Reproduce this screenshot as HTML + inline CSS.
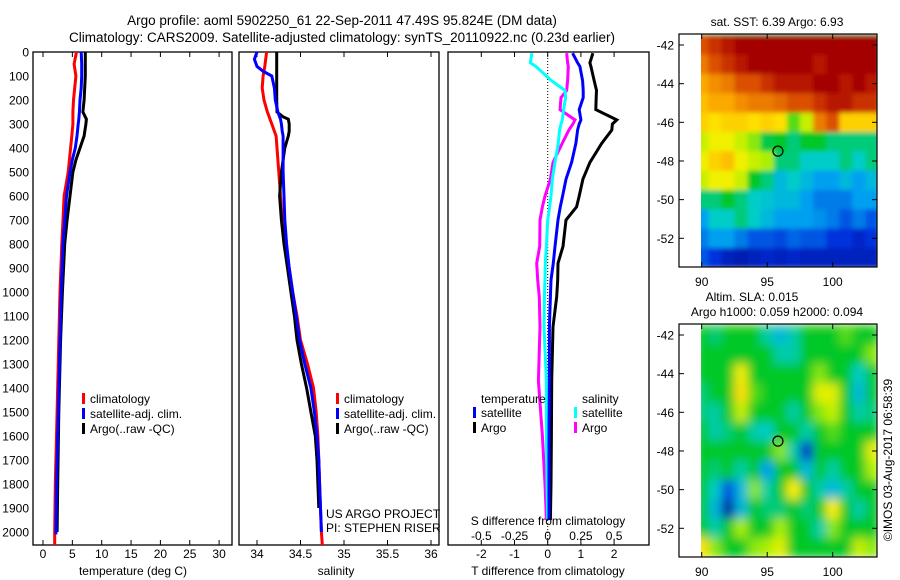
<!DOCTYPE html>
<html><head><meta charset="utf-8">
<style>
html,body{margin:0;padding:0;background:#fff;}
svg{display:block;font-family:"Liberation Sans",sans-serif;}
text{fill:#000;}
</style></head>
<body>
<svg id="fig" width="900" height="580" viewBox="0 0 900 580" xmlns="http://www.w3.org/2000/svg">
<defs>
<filter id="blur1" x="0" y="0" width="1" height="1"><feGaussianBlur stdDeviation="2.5"/></filter>
<filter id="blur2" x="0" y="0" width="1" height="1"><feGaussianBlur stdDeviation="5"/></filter>
<clipPath id="clipTop"><rect x="701" y="34" width="176" height="233"/></clipPath>
<clipPath id="clipBot"><rect x="701" y="324" width="176" height="233"/></clipPath>
</defs>
<text x="342" y="25" font-size="13.5" text-anchor="middle">Argo profile: aoml 5902250_61 22-Sep-2011 47.49S 95.824E (DM data)</text>
<text x="342" y="42" font-size="13.5" text-anchor="middle">Climatology: CARS2009. Satellite-adjusted climatology: synTS_20110922.nc (0.23d earlier)</text>
<g id="panels"></g>
</svg>
<script>
// ---- data ----
const tDepths = [0,50,100,150,200,250,280,300,350,400,450,500,600,700,800,1000,1200,1500,1800,2000];
const tArgo   = [7.2,7.2,7.2,7.1,7.0,6.8,7.4,7.3,7.0,6.3,5.6,5.1,4.6,4.1,3.7,3.3,3.0,2.7,2.5,2.4];
const tSat    = [6.5,6.6,6.6,6.5,6.3,6.2,6.1,6.0,5.8,5.5,5.0,4.6,4.0,3.7,3.4,3.1,2.9,2.6,2.3,2.2];
const tClim   = [5.7,5.3,5.6,5.4,5.2,5.1,5.1,5.1,4.9,4.7,4.5,4.3,3.6,3.4,3.2,2.9,2.7,2.4,2.1,2.0];
const sDepths = [0,30,60,80,100,150,200,250,270,280,300,330,350,400,500,600,700,800,900,1000,1100,1200,1300,1400,1500,1600,1700,1800,1900,2000];
const sSat    = [34.0,33.97,34.0,34.07,34.17,34.2,34.21,34.24,34.26,34.27,34.28,34.29,34.3,34.3,34.3,34.31,34.32,34.34,34.37,34.41,34.45,34.49,34.55,34.62,34.66,34.69,34.71,34.72,34.73,34.74];
const sClim   = [34.11,34.10,34.09,34.08,34.07,34.06,34.08,34.12,34.14,34.15,34.17,34.2,34.22,34.23,34.25,34.27,34.29,34.33,34.37,34.41,34.46,34.5,34.58,34.65,34.68,34.70,34.71,34.72,34.73,34.74];
const sArgoDepths = [0,100,200,250,270,280,300,330,350,400,500,600,700,800,900,1000,1100,1200,1300,1400,1500,1600,1700,1800,1900];
const sArgo   = [34.226,34.226,34.226,34.23,34.30,34.36,34.37,34.37,34.36,34.32,34.28,34.26,34.28,34.31,34.35,34.39,34.43,34.46,34.51,34.57,34.62,34.67,34.69,34.70,34.71];
const dDepths = [5,45,60,120,160,190,240,283,300,325,380,460,530,600,645,700,810,880,950,1020,1145,1370,1600,1800,1950];
const dTArgo  = [1.36,1.27,1.3,1.4,1.47,1.46,1.45,2.08,1.95,1.93,1.63,1.27,1.06,0.95,0.87,0.55,0.46,0.31,0.3,0.27,0.16,0.12,0.11,0.1,0.08];
const dTSat   = [0.75,0.9,0.97,1.05,1.07,1.07,0.95,1.0,0.95,0.9,0.85,0.72,0.55,0.45,0.38,0.31,0.22,0.17,0.1,0.08,0.05,0.05,0.04,0.04,0.04];
const dSSat   = [-0.12,-0.13,-0.09,0.03,0.13,0.135,0.12,0.11,0.1,0.09,0.08,0.055,0.035,0.025,0.015,0.0,-0.01,-0.018,-0.02,-0.025,-0.028,-0.01,-0.01,-0.005,0.0];
const dSArgo  = [0.143,0.15,0.155,0.15,0.143,0.1,0.093,0.206,0.19,0.16,0.11,0.04,0.02,-0.02,-0.04,-0.058,-0.06,-0.083,-0.075,-0.063,-0.058,-0.07,-0.04,-0.02,-0.01];
const tTicks = [0,5,10,15,20,25,30];
const sTicks = [34,34.5,35,35.5,36];
const sTickLabels = ["34","34.5","35","35.5","36"];
const dTTicks = [-2,-1,0,1,2];
const dSTicks = [-0.5,-0.25,0,0.25,0.5];
const depthTicks = [0,100,200,300,400,500,600,700,800,900,1000,1100,1200,1300,1400,1500,1600,1700,1800,1900,2000];
const sstGrid = [
[0.85,0.9,0.95,1,1,1,1,1,1,1,1,1,1,1],
[0.8,0.85,0.9,0.95,1,1,1,1,1,0.95,1,1,1,1],
[0.75,0.78,0.8,0.85,0.85,0.9,0.95,0.95,0.95,1,1,0.95,1,0.95],
[0.72,0.75,0.75,0.78,0.8,0.8,0.82,0.85,0.85,0.9,0.95,0.95,0.9,0.9],
[0.7,0.68,0.7,0.7,0.68,0.7,0.68,0.55,0.62,0.8,0.85,0.7,0.7,0.7],
[0.62,0.65,0.65,0.62,0.58,0.48,0.5,0.45,0.5,0.5,0.45,0.45,0.45,0.45],
[0.65,0.7,0.72,0.65,0.62,0.6,0.45,0.45,0.4,0.4,0.4,0.45,0.4,0.45],
[0.62,0.65,0.65,0.62,0.5,0.45,0.35,0.4,0.35,0.3,0.3,0.35,0.3,0.35],
[0.45,0.45,0.5,0.45,0.4,0.38,0.35,0.35,0.3,0.25,0.25,0.25,0.3,0.3],
[0.3,0.4,0.4,0.45,0.4,0.35,0.3,0.3,0.3,0.28,0.25,0.2,0.25,0.2],
[0.25,0.3,0.3,0.25,0.2,0.2,0.18,0.22,0.2,0.2,0.15,0.15,0.12,0.15],
[0.2,0.15,0.1,0.08,0.1,0.12,0.1,0.12,0.1,0.1,0.1,0.1,0.1,0.1]];
const slaGrid = [
[.5,.45,.5,.5,.5,.42,.35,.42,.5,.5,.5,.55,.5,.5],
[.5,.5,.5,.5,.5,.5,.42,.42,.5,.5,.5,.5,.5,.58],
[.5,.5,.5,.65,.5,.5,.5,.5,.5,.58,.5,.5,.4,.5],
[.45,.5,.5,.68,.55,.5,.5,.5,.5,.64,.64,.5,.35,.5],
[.45,.42,.5,.62,.5,.5,.5,.42,.5,.58,.62,.5,.42,.45],
[.5,.42,.45,.5,.42,.4,.5,.5,.42,.5,.55,.5,.5,.5],
[.5,.5,.5,.5,.5,.5,.58,.42,.12,.5,.5,.5,.5,.64],
[.5,.45,.5,.42,.5,.3,.5,.5,.35,.5,.42,.5,.5,.6],
[.5,.4,.18,.35,.58,.42,.5,.66,.5,.42,.35,.42,.5,.5],
[.5,.35,.05,.35,.5,.45,.45,.5,.45,.5,.66,.5,.42,.5],
[.5,.42,.5,.6,.5,.5,.6,.5,.5,.42,.58,.5,.5,.5],
[.68,.58,.5,.5,.58,.6,.64,.5,.5,.5,.5,.5,.62,.58]];
const latTicks = [-42,-44,-46,-48,-50,-52];
const lonTicks = [90,95,100];
const floatLon = 95.82, floatLat = -47.49;

// ---- helpers ----
const NS="http://www.w3.org/2000/svg";
const root=document.getElementById('panels');
function mk(tag,attrs,parent,txt){const e=document.createElementNS(NS,tag);for(const k in attrs)e.setAttribute(k,attrs[k]);if(txt!==undefined)e.textContent=txt;(parent||root).appendChild(e);return e;}
const yD = d => 52 + d*0.24;
const xT = v => 43 + v*5.87;
const xS = v => 257 + (v-34)*87;
const xDT = v => 547.7 + v*33.2;
const xDS = v => 547.7 + v*132.7;
function path(xs,ds,xf,color,name){
  let p='';xs.forEach((v,i)=>{p+=(i?'L':'M')+xf(v).toFixed(1)+','+yD(ds[i]).toFixed(1);});
  const e=mk('path',{d:p,fill:'none',stroke:color,'stroke-width':3,'stroke-linejoin':'miter'});
  
  
}
function frame(x0,x1,name){
  const e=mk('rect',{x:x0,y:52,width:x1-x0,height:493,fill:'none',stroke:'#000','stroke-width':1.3});
  
  
}
function xticks(vals,labels,xf,ly,name){
  vals.forEach((v,i)=>{const x=xf(v);
    mk('line',{x1:x,x2:x,y1:52,y2:57,stroke:'#000'});
    mk('line',{x1:x,x2:x,y1:545,y2:540,stroke:'#000'});
    if(labels){const t=mk('text',{x:x,y:ly,'font-size':12,'text-anchor':'middle'},root,labels[i]);
      
      }
  });
}
function legend(x,y,items,name){
  items.forEach((it,i)=>{
    const r=mk('rect',{x:x,y:y+i*15-10,width:3,height:11,fill:it[0]});
    
    
    const t=mk('text',{x:x+8,y:y+i*15,'font-size':12},root,it[1]);
    
    
  });
}

// ---- panel 1: temperature ----
frame(33,232,'temperature-plot-frame');
depthTicks.forEach(d=>{const t=mk('text',{x:29,y:yD(d)+4.5,'font-size':12,'text-anchor':'end'},root,String(d));
  
  });
xticks(tTicks,tTicks.map(String),xT,558,'temperature-tick-label');
path(tClim.concat([2.0]),tDepths.concat([2054]),xT,'#f00','temperature-climatology-line');
path(tArgo,tDepths,xT,'#000','temperature-argo-line');
path(tSat,tDepths.map((d,i)=>i==tDepths.length-1?2010:d),xT,'#00f','temperature-satellite-line');
let t1=mk('text',{x:133,y:575,'font-size':12,'text-anchor':'middle'},root,'temperature (deg C)');

legend(82,403,[['#f00','climatology'],['#00f','satellite-adj. clim.'],['#000','Argo(..raw -QC)']],'temperature-legend');

// ---- panel 2: salinity ----
frame(239,439,'salinity-plot-frame');
xticks(sTicks,sTickLabels,xS,558,'salinity-tick-label');
path(sClim.concat([34.75]),sDepths.concat([2054]),xS,'#f00','salinity-climatology-line');
path(sArgo,sArgoDepths,xS,'#000','salinity-argo-line');
path(sSat,sDepths,xS,'#00f','salinity-satellite-line');
let t2=mk('text',{x:336,y:575,'font-size':12,'text-anchor':'middle'},root,'salinity');

legend(336,403,[['#f00','climatology'],['#00f','satellite-adj. clim.'],['#000','Argo(..raw -QC)']],'salinity-legend');
let c1=mk('text',{x:326,y:518,'font-size':12},root,'US ARGO PROJECT');

let c2=mk('text',{x:326,y:532,'font-size':12},root,'PI: STEPHEN RISER');


// ---- panel 3: differences ----
frame(448,649,'difference-plot-frame');
mk('line',{x1:547.7,x2:547.7,y1:52,y2:545,stroke:'#000','stroke-dasharray':'1,2'});
xticks(dTTicks,dTTicks.map(String),xDT,558,'t-difference-tick-label');
path(dSArgo,dDepths,xDS,'#f0f','salinity-argo-difference-line');
path(dSSat,dDepths,xDS,'#0ff','salinity-satellite-difference-line');
path(dTArgo,dDepths,xDT,'#000','temperature-argo-difference-line');
path(dTSat,dDepths,xDT,'#00f','temperature-satellite-difference-line');
dSTicks.forEach(v=>{const t=mk('text',{x:xDS(v),y:540,'font-size':12,'text-anchor':'middle'},root,String(v));
  });
let t3=mk('text',{x:548,y:525,'font-size':12,'text-anchor':'middle'},root,'S difference from climatology');

let t4=mk('text',{x:548,y:575,'font-size':12,'text-anchor':'middle'},root,'T difference from climatology');

let lt=mk('text',{x:481,y:403,'font-size':12},root,'temperature');

let ls=mk('text',{x:582,y:403,'font-size':12},root,'salinity');

legend(473,417,[['#00f','satellite'],['#000','Argo']],'difference-temperature-legend');
legend(574,417,[['#0ff','satellite'],['#f0f','Argo']],'difference-salinity-legend');

// ---- maps ----
const stops=[[0,[0,0,130]],[0.15,[0,50,220]],[0.3,[0,160,240]],[0.4,[0,205,200]],[0.5,[0,200,40]],[0.6,[170,240,0]],[0.66,[255,240,0]],[0.76,[250,160,0]],[0.86,[215,70,0]],[1,[165,0,0]]];
function cmap(v){for(let i=1;i<stops.length;i++){if(v<=stops[i][0]){const a=stops[i-1],b=stops[i],f=(v-a[0])/(b[0]-a[0]);
  return 'rgb('+a[1].map((c,k)=>Math.round(c+(b[1][k]-c)*f)).join(',')+')';}}return 'rgb(165,0,0)';}
function map(top,grid,clip,filt,name){
  const xL=v=>701.7+(v-90)*13.1, yL=v=>top+11+(-42-v)*19.33;
  const g=mk('g',{'clip-path':'url(#'+clip+')'});
  const gg=mk('g',{filter:'url(#'+filt+')'},g);
  
  
  mk('rect',{x:701,y:top,width:176,height:233,fill:cmap(grid[6][6])},gg);
  grid.forEach((row,r)=>row.forEach((v,c)=>{
    mk('rect',{x:(xL(89.5+c)).toFixed(1),y:(yL(-41.5-r)).toFixed(1),width:14,height:20,fill:cmap(v)},gg);
  }));
  const f=mk('rect',{x:679,y:top,width:198,height:233,fill:'none',stroke:'#000','stroke-width':1.2});
  
  latTicks.forEach(v=>{const y=yL(v);
    mk('line',{x1:679,x2:684,y1:y,y2:y,stroke:'#000'});mk('line',{x1:877,x2:872,y1:y,y2:y,stroke:'#000'});
    const t=mk('text',{x:674,y:y+4.5,'font-size':12,'text-anchor':'end'},root,String(v));
    });
  lonTicks.forEach(v=>{const x=xL(v);
    mk('line',{x1:x,x2:x,y1:top,y2:top+5,stroke:'#000'});mk('line',{x1:x,x2:x,y1:top+233,y2:top+228,stroke:'#000'});
    const t=mk('text',{x:x,y:top+252,'font-size':12,'text-anchor':'middle'},root,String(v));
    });
  const m=mk('circle',{cx:xL(floatLon),cy:yL(floatLat),r:5,fill:'none',stroke:'#000','stroke-width':1.2});
  
}
map(34,sstGrid,'clipTop','blur1','sst-map');
map(324,slaGrid,'clipBot','blur2','sla-map');
let m1=mk('text',{x:777,y:26,'font-size':12,'text-anchor':'middle'},root,'sat. SST: 6.39 Argo: 6.93');

let m2=mk('text',{x:752,y:301,'font-size':12,'text-anchor':'middle'},root,'Altim. SLA: 0.015');

let m3=mk('text',{x:777,y:316,'font-size':12,'text-anchor':'middle'},root,'Argo h1000: 0.059 h2000: 0.094');

let cr=mk('text',{x:892,y:460,'font-size':12,'text-anchor':'middle',transform:'rotate(-90 892 460)'},root,'©IMOS 03-Aug-2017 06:58:39');

</script>
</body></html>
